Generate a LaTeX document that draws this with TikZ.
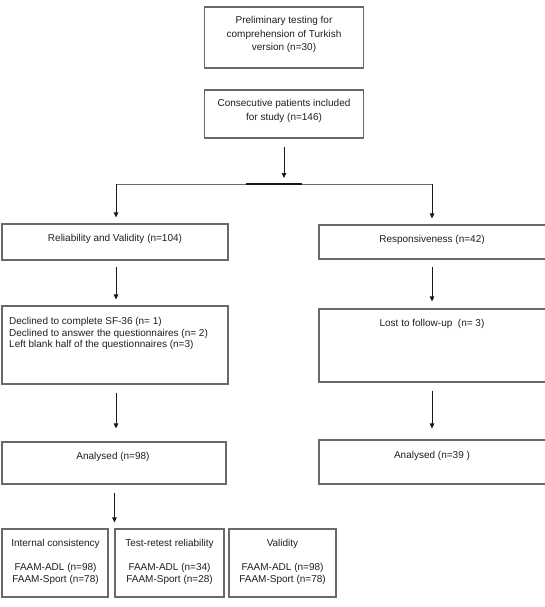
\documentclass[tikz,border=0pt]{standalone}
\usepackage{fontspec}
\setmainfont{Liberation Sans}
\usetikzlibrary{arrows.meta}
\definecolor{boxgray}{RGB}{105,105,105}
\definecolor{txtgray}{RGB}{30,30,30}
\definecolor{arrgray}{RGB}{25,25,25}
\tikzset{
  box/.style={draw=boxgray, line width=1.1pt, rectangle, inner sep=0pt},
  lbl/.style={inner sep=0pt, text=txtgray, align=center, font=\fontsize{10pt}{13.4pt}\selectfont},
  lbltight/.style={inner sep=0pt, text=txtgray, align=left, font=\fontsize{10pt}{11.5pt}\selectfont},
  lblbot/.style={inner sep=0pt, text=txtgray, align=center, font=\fontsize{10pt}{12pt}\selectfont},
  arr/.style={draw=arrgray, line width=0.8pt, -{Triangle[length=5pt,width=4.5pt]}},
  splitline/.style={draw=boxgray, line width=0.9pt},
  thickseg/.style={draw=arrgray, line width=1.8pt},
}
\begin{document}
\begin{tikzpicture}[x=1pt,y=-1pt]
\useasboundingbox (0,0) rectangle (544,607);
% boxes
\node[box, minimum width=159pt, minimum height=61pt] (P) at (284,37.5) {};
\node[box, minimum width=159pt, minimum height=48pt] (C) at (284,114) {};
\node[box, minimum width=226pt, minimum height=36pt] (Rel) at (115,242) {};
\node[box, minimum width=230pt, minimum height=34pt] (Resp) at (434,242) {};
\node[box, minimum width=226pt, minimum height=78pt] (Decl) at (115,345) {};
\node[box, minimum width=230pt, minimum height=73pt] (Lost) at (434,345.5) {};
\node[box, minimum width=224pt, minimum height=42pt] (AnaL) at (114,463) {};
\node[box, minimum width=230pt, minimum height=44pt] (AnaR) at (434,462) {};
\node[box, minimum width=106pt, minimum height=68pt] (Int) at (55,563) {};
\node[box, minimum width=109pt, minimum height=68pt] (Test) at (169.5,563) {};
\node[box, minimum width=107pt, minimum height=68pt] (Val) at (282.5,563) {};
% labels
\node[lbl, anchor=north] (Ptxt) at (284,16.2) {Preliminary testing for\\comprehension of Turkish\\version (n=30)};
\node[lbl, anchor=north] (Ctxt) at (284,99.2) {Consecutive patients included\\for study (n=146)};
\node[lbl, anchor=base] (Reltxt) at (115,241.8) {Reliability and Validity (n=104)};
\node[lbl, anchor=base] (Resptxt) at (432,242.8) {Responsiveness (n=42)};
\node[lbltight, anchor=north west] (Decltxt) at (9,317.2) {Declined to complete SF-36 (n= 1)\\Declined to answer the questionnaires (n= 2)\\Left blank half of the questionnaires (n=3)};
\node[lbl, anchor=base] (Losttxt) at (432,326.6) {Lost to follow-up\ \ (n= 3)};
\node[lbl, anchor=base] (AnaLtxt) at (113,459.6) {Analysed (n=98)};
\node[lbl, anchor=base] (AnaRtxt) at (432,458.6) {Analysed (n=39 )};
\node[lblbot, anchor=north] (Inttxt) at (55.5,539.2) {Internal consistency\\[12pt]FAAM-ADL (n=98)\\FAAM-Sport (n=78)};
\node[lblbot, anchor=north] (Testtxt) at (169.5,539.2) {Test-retest reliability\\[12pt]FAAM-ADL (n=34)\\FAAM-Sport (n=28)};
\node[lblbot, anchor=north] (Valtxt) at (282.5,539.2) {Validity\\[12pt]FAAM-ADL (n=98)\\FAAM-Sport (n=78)};
% split
\coordinate (splitc) at (284,184);
\coordinate (splitL) at (116,184);
\coordinate (splitR) at (432,184);
\coordinate (thickL) at (246,184);
\coordinate (thickR) at (302,184);
\draw[arr, shorten <=8pt, shorten >=6pt] (C) -- (splitc);
\draw[splitline] (splitL) -- (splitR);
\draw[thickseg] (thickL) -- (thickR);
\draw[arr, shorten >=6pt] (splitL) -- (Rel.north -| splitL);
\draw[arr, shorten >=6pt] (splitR) -- (Resp.north -| splitR);
% vertical flows
\draw[arr, shorten <=6pt, shorten >=6pt] (Rel.south -| splitL) -- (Decl.north -| splitL);
\draw[arr, shorten <=7pt, shorten >=7pt] (Resp.south -| splitR) -- (Lost.north -| splitR);
\draw[arr, shorten <=8pt, shorten >=13pt] (Decl.south -| splitL) -- (AnaL.north -| splitL);
\draw[arr, shorten <=8pt, shorten >=11pt] (Lost.south -| splitR) -- (AnaR.north -| splitR);
\draw[arr, shorten <=8pt, shorten >=6pt] (AnaL.south -| Test.north west) -- (Test.north west);
\end{tikzpicture}
\end{document}
